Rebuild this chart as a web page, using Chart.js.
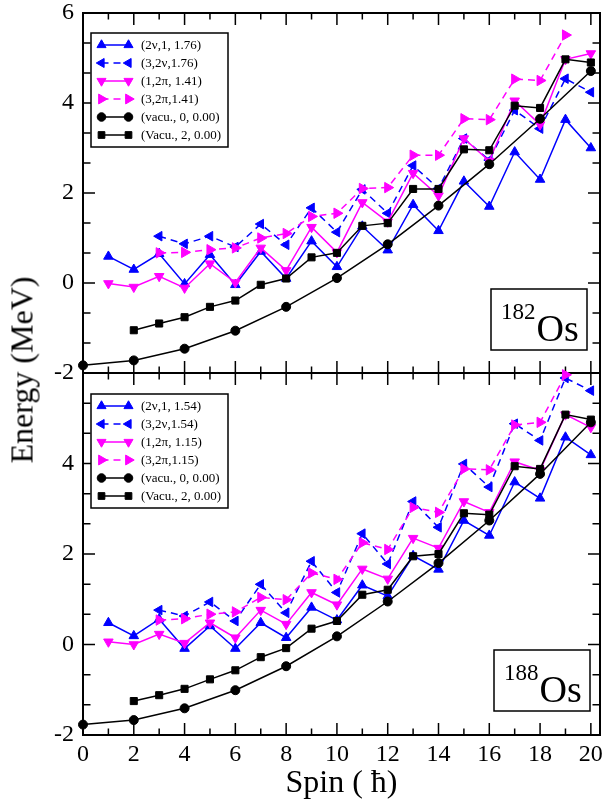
<!DOCTYPE html>
<html>
<head>
<meta charset="utf-8">
<script src="https://cdn.jsdelivr.net/npm/chart.js@4.4.1/dist/chart.umd.min.js"></script>
<style>
  html, body { margin: 0; padding: 0; background: #fff; }
  #wrap { position: relative; width: 607px; height: 803px; overflow: hidden; }
  canvas { position: absolute; left: 0; top: 0; }
  #ytitle {
    position: absolute; left: 22px; top: 370px;
    transform: translate(-50%, -50%) rotate(-90deg);
    font: 32px "Liberation Serif", "Times New Roman", serif;
    white-space: nowrap; color: #000;
  }
</style>
</head>
<body>
<div id="wrap">
  <canvas id="panelTop" width="607" height="803"></canvas>
  <canvas id="panelBottom" width="607" height="803"></canvas>
  <div id="ytitle">Energy (MeV)</div>
</div>
<script>
// spin values and axis ticks
const spins = [0, 1, 2, 3, 4, 5, 6, 7, 8, 9, 10, 11, 12, 13, 14, 15, 16, 17, 18, 19, 20];
const spinTicks = [0, 2, 4, 6, 8, 10, 12, 14, 16, 18, 20];
const energyTicks = [-2, 0, 2, 4, 6];

// 182Os bands (MeV), null where a band has no state
const os182_2nu   = [null, 0.59, 0.30, 0.65, -0.02, 0.63, -0.04, 0.70, 0.10, 0.93, 0.36, 1.26, 0.73, 1.74, 1.16, 2.26, 1.70, 2.91, 2.30, 3.63, 3.00];
const os182_3_2nu = [null, null, null, 1.04, 0.87, 1.04, 0.80, 1.31, 0.85, 1.67, 1.13, 2.08, 1.55, 2.61, 2.10, 3.21, 2.73, 3.84, 3.43, 4.54, 4.24];
const os182_1_2pi = [null, -0.01, -0.09, 0.15, -0.11, 0.43, 0.01, 0.78, 0.28, 1.24, 0.68, 1.79, 1.36, 2.44, 1.94, 3.21, 2.71, 4.05, 3.52, 4.97, 5.10];
const os182_3_2pi = [null, null, null, 0.67, 0.68, 0.74, 0.78, 1.00, 1.10, 1.48, 1.55, 2.10, 2.12, 2.84, 2.84, 3.65, 3.63, 4.53, 4.50, 5.51, null];
const os182_vac0  = [-1.83, null, -1.72, null, -1.46, null, -1.06, null, -0.53, null, 0.11, null, 0.86, null, 1.72, null, 2.64, null, 3.65, null, 4.71];
const os182_vac2  = [null, null, -1.05, -0.90, -0.76, -0.53, -0.39, -0.04, 0.10, 0.57, 0.67, 1.27, 1.33, 2.09, 2.09, 2.97, 2.95, 3.94, 3.89, 4.97, 4.90];
const os182_labels = ['(2\u03bd,1, 1.76)', '(3,2\u03bd,1.76)', '(1,2\u03c0, 1.41)', '(3,2\u03c0,1.41)', '(vacu., 0, 0.00)', '(Vacu., 2, 0.00)'];

// 188Os bands (MeV)
const os188_2nu   = [null, 0.48, 0.19, 0.56, -0.09, 0.41, -0.09, 0.48, 0.15, 0.82, 0.54, 1.31, 1.07, 1.96, 1.66, 2.74, 2.41, 3.59, 3.23, 4.58, 4.19];
const os188_3_2nu = [null, null, null, 0.76, 0.63, 0.94, 0.52, 1.33, 0.70, 1.84, 1.15, 2.45, 1.78, 3.16, 2.59, 3.99, 3.48, 4.88, 4.51, 5.89, 5.61];
const os188_1_2pi = [null, 0.06, 0.00, 0.23, 0.03, 0.48, 0.15, 0.76, 0.45, 1.15, 0.88, 1.67, 1.45, 2.35, 2.13, 3.16, 2.92, 4.04, 3.85, 5.08, 4.80];
const os188_3_2pi = [null, null, null, 0.54, 0.57, 0.67, 0.72, 1.04, 0.99, 1.58, 1.44, 2.25, 2.10, 3.03, 2.92, 3.88, 3.86, 4.85, 4.91, 5.96, null];
const os188_vac0  = [-1.77, null, -1.67, null, -1.41, null, -1.01, null, -0.48, null, 0.18, null, 0.95, null, 1.80, null, 2.74, null, 3.77, null, 4.91];
const os188_vac2  = [null, null, -1.25, -1.12, -0.98, -0.77, -0.57, -0.28, -0.08, 0.35, 0.52, 1.10, 1.21, 1.95, 2.00, 2.90, 2.87, 3.94, 3.88, 5.08, 4.97];
const os188_labels = ['(2\u03bd,1, 1.54)', '(3,2\u03bd,1.54)', '(1,2\u03c0, 1.15)', '(3,2\u03c0,1.15)', '(vacu., 0, 0.00)', '(Vacu., 2, 0.00)'];

const serif = '"Liberation Serif", "Times New Roman", serif';

// line / marker style of each band, same order as the data arrays
const bandStyles = [
  { color: '#0000ff', pointStyle: 'triangle', rotation: 0,   radius: 5.5, dash: [],     order: 6 },
  { color: '#0000ff', pointStyle: 'triangle', rotation: -90, radius: 5.5, dash: [7, 5], order: 5 },
  { color: '#ff00ff', pointStyle: 'triangle', rotation: 180, radius: 5.5, dash: [],     order: 4 },
  { color: '#ff00ff', pointStyle: 'triangle', rotation: 90,  radius: 6,   dash: [7, 5], order: 3 },
  { color: '#000000', pointStyle: 'circle',   rotation: 0,   radius: 4.5, dash: [],     order: 2 },
  { color: '#000000', pointStyle: 'rect',     rotation: 0,   radius: 5,   dash: [],     order: 1 }
];

function points(vals) {
  return spins.map((s, i) => ({ x: s, y: vals[i] })).filter(p => p.y !== null);
}

function bands(series, labels) {
  return series.map((vals, i) => {
    const st = bandStyles[i];
    return {
      label: labels[i],
      data: points(vals),
      borderColor: st.color,
      backgroundColor: st.color,
      borderWidth: 1.5,
      borderDash: st.dash,
      pointStyle: st.pointStyle,
      pointRotation: st.rotation,
      pointRadius: st.radius,
      pointBorderWidth: 1,
      pointBorderColor: st.color,
      pointBackgroundColor: st.color,
      tension: 0,
      clip: false,
      order: st.order
    };
  });
}

// frame with inward ticks on all four sides
const frameTicks = {
  id: 'frameTicks',
  beforeDatasetsDraw(chart) {
    const { ctx, chartArea: a, scales: { x, y } } = chart;
    ctx.save();
    ctx.strokeStyle = '#000';
    ctx.lineWidth = 1.5;
    ctx.beginPath();
    spins.forEach(s => {
      const px = x.getPixelForValue(s);
      const len = s % 2 === 0 ? 12 : 6.5;
      ctx.moveTo(px, a.bottom); ctx.lineTo(px, a.bottom - len);
      ctx.moveTo(px, a.top); ctx.lineTo(px, a.top + len);
    });
    for (let k = 0; k < energyTicks.length; k++) {
      const v = energyTicks[k];
      const vals = [[v, 12]];
      if (k < energyTicks.length - 1) vals.push([v + 2 / 3, 7.5], [v + 4 / 3, 7.5]);
      vals.forEach(([e, len]) => {
        const py = y.getPixelForValue(e);
        ctx.moveTo(a.left, py); ctx.lineTo(a.left + len, py);
        ctx.moveTo(a.right, py); ctx.lineTo(a.right - len, py);
      });
    }
    ctx.stroke();
    ctx.lineWidth = 2;
    ctx.strokeRect(a.left, a.top, a.right - a.left, a.bottom - a.top);
    ctx.restore();
  }
};

// boxed legend inside the panel
const boxLegend = {
  id: 'boxLegend',
  afterDraw(chart, args, o) {
    const ctx = chart.ctx;
    ctx.save();
    ctx.fillStyle = '#fff';
    ctx.fillRect(o.x, o.y, o.w, o.h);
    ctx.strokeStyle = '#000';
    ctx.lineWidth = 1.5;
    ctx.strokeRect(o.x, o.y, o.w, o.h);
    chart.data.datasets.forEach((ds, i) => {
      const ly = o.y + 12 + i * 18;
      const x1 = o.x + 10.5, x2 = o.x + 37.5;
      ctx.strokeStyle = ds.borderColor;
      ctx.fillStyle = ds.backgroundColor;
      ctx.lineWidth = ds.borderWidth;
      ctx.setLineDash(ds.borderDash);
      ctx.beginPath();
      ctx.moveTo(x1, ly); ctx.lineTo(x2, ly);
      ctx.stroke();
      ctx.setLineDash([]);
      ctx.lineWidth = 1;
      const pt = { pointStyle: ds.pointStyle, radius: ds.pointRadius * 0.95, rotation: ds.pointRotation, borderWidth: 1 };
      Chart.helpers.drawPoint(ctx, pt, x1, ly);
      Chart.helpers.drawPoint(ctx, pt, x2, ly);
      ctx.fillStyle = '#000';
      ctx.font = '13px ' + serif;
      ctx.textBaseline = 'middle';
      ctx.textAlign = 'left';
      ctx.fillText(ds.label, o.x + 50, ly + 0.5);
    });
    ctx.restore();
  }
};

// nucleus tag, e.g. 182Os
const nucleusTag = {
  id: 'nucleusTag',
  afterDraw(chart, args, o) {
    const ctx = chart.ctx;
    ctx.save();
    ctx.fillStyle = '#fff';
    ctx.fillRect(o.x, o.y, o.w, o.h);
    ctx.strokeStyle = '#000';
    ctx.lineWidth = 1.5;
    ctx.strokeRect(o.x, o.y, o.w, o.h);
    ctx.fillStyle = '#000';
    ctx.textBaseline = 'alphabetic';
    ctx.textAlign = 'left';
    ctx.font = '23px ' + serif;
    ctx.fillText(o.mass, o.x + 10, o.y + 30);
    const w = ctx.measureText(o.mass).width;
    ctx.font = '38px ' + serif;
    ctx.fillText('Os', o.x + 10 + w + 1, o.y + 52);
    ctx.restore();
  }
};

function makePanel(id, datasets, opts) {
  return new Chart(document.getElementById(id), {
    type: 'line',
    data: { datasets: datasets },
    plugins: [frameTicks, boxLegend, nucleusTag],
    options: {
      responsive: false,
      animation: false,
      devicePixelRatio: 1,
      layout: { padding: opts.padding },
      plugins: {
        legend: { display: false },
        tooltip: { enabled: false },
        boxLegend: opts.legend,
        nucleusTag: opts.tag
      },
      scales: {
        x: {
          type: 'linear',
          display: opts.showX,
          min: 0,
          max: 20.36,
          afterBuildTicks: s => { s.ticks = spinTicks.map(v => ({ value: v })); },
          afterFit: s => {
            s.height = opts.showX ? 68 : 0;
            s.paddingLeft = 0;
            s.paddingRight = 0;
          },
          grid: { display: false, drawTicks: false },
          border: { display: false },
          ticks: {
            autoSkip: false, maxRotation: 0, padding: 8, color: '#000',
            font: { family: serif, size: 24, lineHeight: 1 }
          },
          title: {
            display: true, text: 'Spin ( \u0127)', color: '#000',
            font: { family: serif, size: 32, lineHeight: 1 },
            padding: { top: 0, bottom: 3 }
          }
        },
        y: {
          type: 'linear',
          min: -2,
          max: 6,
          afterBuildTicks: s => { s.ticks = energyTicks.map(v => ({ value: v })); },
          afterFit: s => { s.width = 83; s.paddingTop = 0; s.paddingBottom = 0; },
          grid: { display: false, drawTicks: false },
          border: { display: false },
          ticks: {
            autoSkip: false, padding: 9, color: '#000',
            font: { family: serif, size: 24, lineHeight: 1 },
            callback: v => (opts.hideTopLabel && v === 6) ? '' : String(v)
          }
        }
      }
    }
  });
}

makePanel('panelTop',
  bands([os182_2nu, os182_3_2nu, os182_1_2pi, os182_3_2pi, os182_vac0, os182_vac2], os182_labels),
  {
    padding: { left: 0, top: 13, right: 2, bottom: 430 },
    showX: false,
    hideTopLabel: false,
    legend: { x: 91, y: 33, w: 137, h: 114 },
    tag: { x: 491, y: 289, w: 96, h: 61, mass: '182' }
  });

makePanel('panelBottom',
  bands([os188_2nu, os188_3_2nu, os188_1_2pi, os188_3_2pi, os188_vac0, os188_vac2], os188_labels),
  {
    padding: { left: 0, top: 373, right: 2, bottom: 0 },
    showX: true,
    hideTopLabel: true,
    legend: { x: 91, y: 394, w: 137, h: 114 },
    tag: { x: 494, y: 650, w: 96, h: 61, mass: '188' }
  });
</script>
</body>
</html>
